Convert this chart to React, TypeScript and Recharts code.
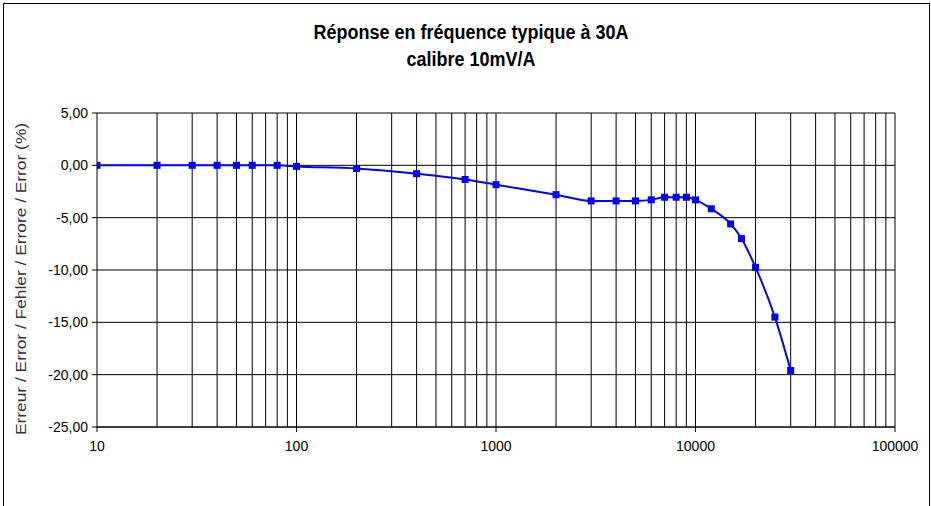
import { LineChart, Line, XAxis, YAxis, CartesianGrid, ReferenceLine } from 'recharts';

// frequency (Hz) and error (%)
const frequencies = [10, 20, 30, 40, 50, 60, 80, 100, 200, 400, 700, 1000, 2000, 3000, 4000, 5000, 6000, 7000, 8000, 9000, 10000, 12000, 15000, 17000, 20000, 25000, 30000];
const errors = [0, 0, 0, 0, 0, 0, 0, -0.1, -0.3, -0.8, -1.35, -1.85, -2.8, -3.4, -3.4, -3.4, -3.3, -3.05, -3.05, -3.05, -3.3, -4.15, -5.6, -7.0, -9.75, -14.5, -19.6];

const xTicks = [10, 100, 1000, 10000, 100000];
const yTicks = [5, 0, -5, -10, -15, -20, -25];
// vertical grid at every log subdivision
const gridFreqs = [
  20, 30, 40, 50, 60, 70, 80, 90, 100,
  200, 300, 400, 500, 600, 700, 800, 900, 1000,
  2000, 3000, 4000, 5000, 6000, 7000, 8000, 9000, 10000,
  20000, 30000, 40000, 50000, 60000, 70000, 80000, 90000, 100000,
];

const titleLines = ['Réponse en fréquence typique à 30A', 'calibre 10mV/A'];
const yLabel = 'Erreur / Error / Fehler / Errore / Error (%)';

const data = frequencies.map((f, i) => ({ freq: f, err: errors[i] }));

const font = '"Liberation Sans", Arial, sans-serif';

const SquareDot = (props: any) => {
  const { cx, cy, index } = props;
  if (cx == null || cy == null) return <g key={index} />;
  return <rect key={index} x={cx - 3.5} y={cy - 3.5} width={7} height={7} fill="#0000ff" />;
};

export default function App() {
  return (
    <div style={{ position: 'relative', width: 931, height: 506, overflow: 'hidden', background: '#fff', fontFamily: font }}>
      <style>{`body{margin:0}`}</style>
      <div style={{ position: 'absolute', left: 3, top: 3, width: 925, height: 560, border: '1.5px solid #000' }} />
      <div style={{ position: 'absolute', left: 0, width: 942, top: 22, textAlign: 'center', fontWeight: 'bold', fontSize: 18, lineHeight: '25px', color: '#000', transform: 'scaleY(1.08)' }}>
        {titleLines.map(t => <div key={t}>{t}</div>)}
      </div>
      <div style={{ position: 'absolute', left: 0, top: 0 }}>
        <LineChart width={931} height={506} data={data} margin={{ top: 113, right: 36, left: 0, bottom: 0 }}>
          <CartesianGrid stroke="#000" strokeWidth={1} vertical={false} />
          {gridFreqs.map(v => (
            <ReferenceLine key={v} x={v} stroke="#000" strokeWidth={1} />
          ))}
          <XAxis
            dataKey="freq"
            type="number"
            scale="log"
            domain={[10, 100000]}
            ticks={xTicks}
            allowDataOverflow
            height={79}
            tickSize={5}
            tickMargin={9}
            stroke="#000"
            tick={{ fill: '#000', fontSize: 14, fontFamily: font }}
          />
          <YAxis
            type="number"
            domain={[-25, 5]}
            ticks={yTicks}
            width={97}
            tickSize={5}
            tickMargin={4}
            stroke="#000"
            tickFormatter={(v: number) => v.toFixed(2).replace('.', ',')}
            tick={{ fill: '#000', fontSize: 14, fontFamily: font }}
            label={{
              content: () => (
                <text transform="translate(22,279) rotate(-90) scale(1.24,1)" textAnchor="middle" dominantBaseline="middle" fill="#333" fontSize={14} fontFamily={font}>
                  {yLabel}
                </text>
              ),
            }}
          />
          <Line
            type="monotone"
            dataKey="err"
            stroke="#0000ff"
            strokeWidth={2}
            dot={SquareDot}
            activeDot={false}
            isAnimationActive={false}
          />
        </LineChart>
      </div>
    </div>
  );
}
